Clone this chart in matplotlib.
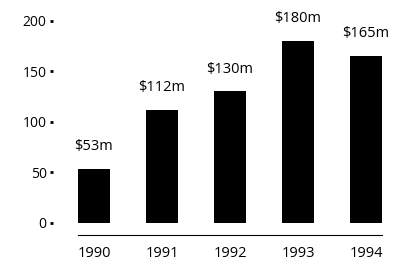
import matplotlib.pyplot as plt

years = ["1990", "1991", "1992", "1993", "1994"]
values = [53, 112, 130, 180, 165]
labels = ["$53m", "$112m", "$130m", "$180m", "$165m"]
yticks = [0, 50, 100, 150, 200]

plt.rcParams['font.family'] = ['Open Sans', 'DejaVu Sans']
fs = 10.5

fig = plt.figure(figsize=(4.02, 2.64), dpi=100)
ax = fig.add_axes([0.194, 0.110, 0.756, 0.869])

x = range(len(years))
ax.bar(x, values, width=0.47, color='black')

for xi, v, lab in zip(x, values, labels):
    ax.annotate(lab, (xi, v), xytext=(0, 16), textcoords='offset points',
                ha='center', va='center', fontsize=fs)

ax.set_xlim(-0.235, 4.235)
ax.set_ylim(-12.3, 215)
ax.set_xticks(list(x))
ax.set_xticklabels(years, fontsize=fs)
ax.set_yticks(yticks)
ax.set_yticklabels([str(t) for t in yticks], fontsize=fs)

for s in ['top', 'right', 'left']:
    ax.spines[s].set_visible(False)
ax.spines['left'].set_position(('outward', 18))
ax.spines['bottom'].set_linewidth(0.8)
ax.tick_params(axis='x', length=0, pad=8)
ax.tick_params(axis='y', length=2, width=2, pad=2.5)

fig.savefig("out.png", dpi=100)
